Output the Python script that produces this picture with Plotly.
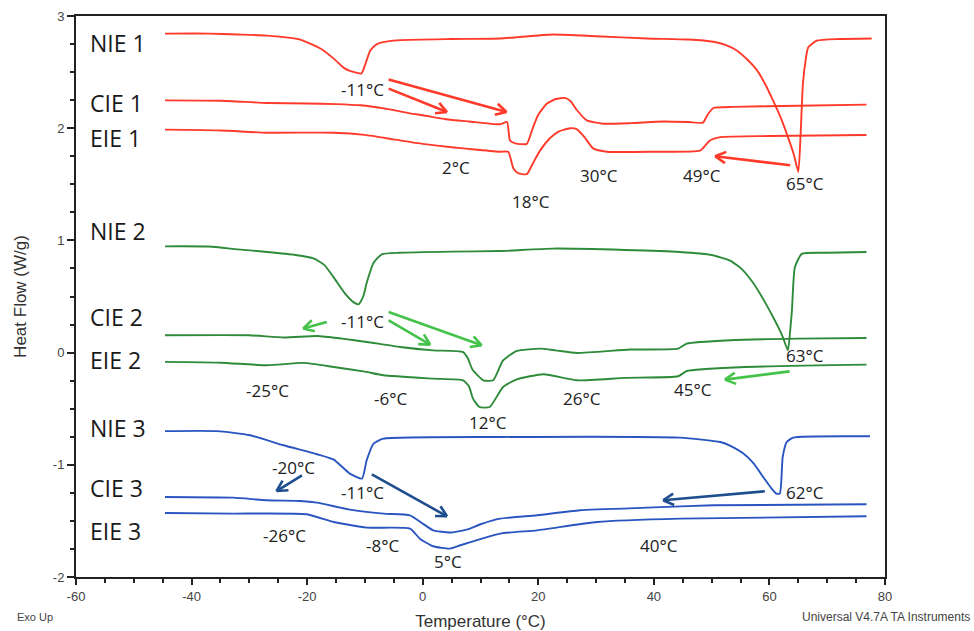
import math
import plotly.graph_objects as go

# ---------------- data ----------------
nie1_t = [-44.6, -37, -32, -27, -21.2, -17.7, -15.4, -13.7, -12.6, -11.5, -10.6, -10, -9.1, -8.2, -7.4, -3.9, 5, 13.4, 22.5, 30, 38.8, 46, 50.3, 52.5, 54.4, 56.2, 57.8, 59.3, 60.6, 61.9, 63, 64.2, 65.0, 65.4, 65.8, 66.3, 66.7, 68.2, 72, 77.7]
nie1_y = [2.843, 2.843, 2.835, 2.825, 2.79, 2.71, 2.62, 2.54, 2.51, 2.495, 2.487, 2.56, 2.69, 2.74, 2.76, 2.785, 2.795, 2.80, 2.835, 2.82, 2.80, 2.79, 2.77, 2.74, 2.69, 2.61, 2.52, 2.39, 2.25, 2.10, 1.95, 1.77, 1.61, 1.95, 2.40, 2.62, 2.72, 2.78, 2.795, 2.80]

cie1_t = [-44.6, -35, -27, -20, -15, -10.8, -6, -2, 0, 4, 8, 13.4, 14.6, 15.1, 16, 18, 19.1, 20, 21.5, 23, 24.6, 25.6, 26.7, 28.4, 31.2, 36, 41.6, 46, 48.5, 49.3, 50.3, 53.7, 65, 76.8]
cie1_y = [2.248, 2.245, 2.225, 2.22, 2.215, 2.204, 2.17, 2.13, 2.115, 2.08, 2.06, 2.035, 2.055, 1.89, 1.865, 1.86, 2.01, 2.12, 2.22, 2.26, 2.27, 2.24, 2.16, 2.07, 2.04, 2.045, 2.06, 2.055, 2.05, 2.12, 2.18, 2.19, 2.20, 2.21]

eie1_t = [-44.6, -35, -27, -15.4, -10, -5, 0, 5, 9, 13.4, 14.8, 15.7, 16.5, 18.0, 19, 20.3, 22, 23.5, 25.5, 26.7, 28, 29.5, 31.9, 40, 48, 48.8, 49.7, 51.5, 60, 76.8]
eie1_y = [1.987, 1.98, 1.96, 1.96, 1.94, 1.90, 1.86, 1.83, 1.81, 1.79, 1.79, 1.64, 1.60, 1.59, 1.68, 1.80, 1.91, 1.97, 2.00, 1.99, 1.92, 1.82, 1.79, 1.79, 1.80, 1.84, 1.89, 1.92, 1.93, 1.94]

nie2_t = [-44.6, -37, -32, -26.9, -22, -18.9, -17, -15.4, -13.5, -12, -11.1, -10.3, -9.7, -8.5, -7.1, -4, 5, 13.4, 22.5, 35, 44.5, 50, 53.2, 55.3, 57.2, 59.0, 60.6, 61.6, 62.3, 63.2, 63.6, 63.9, 64.4, 65.6, 70, 76.8]
nie2_y = [0.947, 0.945, 0.92, 0.897, 0.87, 0.84, 0.78, 0.67, 0.53, 0.45, 0.43, 0.50, 0.62, 0.80, 0.876, 0.89, 0.90, 0.905, 0.927, 0.915, 0.897, 0.87, 0.82, 0.74, 0.62, 0.47, 0.32, 0.22, 0.14, 0.02, 0.20, 0.38, 0.76, 0.88, 0.89, 0.897]

cie2_t = [-44.6, -30, -24, -18.3, -14, -9.7, -3.9, 1.8, 7.0, 7.8, 8.6, 10.5, 12.2, 13.9, 16.3, 20.3, 23, 26.7, 35.9, 44.2, 45.7, 53.2, 65, 76.8]
cie2_y = [0.154, 0.154, 0.134, 0.148, 0.125, 0.095, 0.05, 0.02, 0.005, -0.05, -0.15, -0.247, -0.247, -0.07, 0.015, 0.035, 0.02, -0.003, 0.027, 0.035, 0.08, 0.11, 0.125, 0.13]

eie2_t = [-44.6, -35, -26.9, -20.6, -15.4, -10, -6.8, 1.8, 7.0, 8.0, 8.7, 9.8, 11.6, 13.9, 16.3, 20.9, 26.7, 35, 44.2, 45.7, 55, 76.8]
eie2_y = [-0.083, -0.09, -0.113, -0.092, -0.128, -0.17, -0.202, -0.232, -0.247, -0.30, -0.41, -0.485, -0.485, -0.306, -0.238, -0.193, -0.247, -0.225, -0.211, -0.164, -0.13, -0.107]

nie3_t = [-44.6, -35.6, -29.9, -24.1, -18.3, -15.4, -12.6, -10.5, -9.7, -8.5, -6.8, 13.4, 44.5, 51.5, 53.6, 55.5, 57.3, 58.9, 60.2, 61.2, 61.8, 62.3, 63.0, 64.1, 77.4]
nie3_y = [-0.70, -0.70, -0.737, -0.826, -0.906, -0.954, -1.079, -1.123, -0.96, -0.811, -0.767, -0.752, -0.758, -0.797, -0.84, -0.90, -0.99, -1.108, -1.20, -1.257, -1.257, -0.93, -0.797, -0.758, -0.746]

cie3_t = [-44.6, -32.8, -26.9, -21.2, -18.3, -12.6, -6.8, -2.2, 0, 1.8, 4.7, 7.6, 10, 13.4, 19.8, 27.2, 38.8, 50.3, 76.8]
cie3_y = [-1.287, -1.293, -1.316, -1.322, -1.337, -1.40, -1.435, -1.45, -1.524, -1.584, -1.604, -1.578, -1.53, -1.48, -1.45, -1.405, -1.382, -1.361, -1.352]

eie3_t = [-44.6, -32.8, -20.1, -15.4, -9.7, -2.2, -0.5, 1.8, 4.7, 6.5, 13.4, 19.8, 30.2, 44.5, 76.8]
eie3_y = [-1.43, -1.435, -1.441, -1.51, -1.56, -1.569, -1.658, -1.726, -1.747, -1.717, -1.613, -1.584, -1.51, -1.48, -1.459]

series_names = ["NIE 1", "CIE 1", "EIE 1", "NIE 2", "CIE 2", "EIE 2", "NIE 3", "CIE 3", "EIE 3"]
series_t = [nie1_t, cie1_t, eie1_t, nie2_t, cie2_t, eie2_t, nie3_t, cie3_t, eie3_t]
series_y = [nie1_y, cie1_y, eie1_y, nie2_y, cie2_y, eie2_y, nie3_y, cie3_y, eie3_y]
series_group = [0, 0, 0, 1, 1, 1, 2, 2, 2]

# name labels (left side)
name_label_y = [2.757, 2.226, 1.914, 1.08, 0.316, -0.067, -0.67, -1.205, -1.588]
name_label_x = -57.9

# temperature labels
temp_text = ["-11°C", "2°C", "18°C", "30°C", "49°C", "65°C",
             "-11°C", "-25°C", "-6°C", "12°C", "26°C", "45°C", "63°C",
             "-20°C", "-11°C", "-26°C", "-8°C", "5°C", "62°C", "40°C"]
temp_x = [-10.4, 5.7, 18.7, 30.5, 48.3, 66.1,
          -10.4, -26.8, -5.5, 11.3, 27.6, 46.8, 66.1,
          -22.4, -10.4, -23.9, -7.0, 4.4, 66.1, 40.9]
temp_y = [2.344, 1.654, 1.349, 1.58, 1.58, 1.506,
          0.273, -0.336, -0.41, -0.627, -0.41, -0.33, -0.024,
          -1.02, -1.251, -1.628, -1.717, -1.866, -1.251, -1.717]

# arrows: tail (x, y) -> head (x, y), colour group
arrow_tail_x = [-5.9, -5.9, 63.6, -16.6, -5.9, -5.9, 63.5, -20.9, -8.8, 59.2]
arrow_tail_y = [2.433, 2.353, 1.67, 0.273, 0.288, 0.362, -0.167, -1.094, -1.085, -1.236]
arrow_head_x = [14.5, 4.2, 50.6, -20.7, 1.3, 10.2, 52.3, -25.3, 4.2, 41.6]
arrow_head_y = [2.144, 2.144, 1.75, 0.214, 0.071, 0.065, -0.241, -1.234, -1.459, -1.316]
arrow_group = [0, 0, 0, 1, 1, 1, 1, 2, 2, 2]

x_ticks = [-60, -40, -20, 0, 20, 40, 60, 80]
x_tick_text = ["-60", "-40", "-20", "0", "20", "40", "60", "80"]
y_ticks = [-2, -1, 0, 1, 2, 3]
y_tick_text = ["-2", "-1", "0", "1", "2", "3"]

# ---------------- style ----------------
curve_colors = ["#ff3a2a", "#2e8b3a", "#2a55c0"]
arrow_colors = ["#ff3a2a", "#45c24a", "#1f4e8f"]

W, H = 974, 631
ML, MR, MT, MB = 76, 89, 16, 54
XR = [-60, 80]
YR = [-2, 3]
PW, PH = W - ML - MR, H - MT - MB
sx = PW / (XR[1] - XR[0])
sy = PH / (YR[1] - YR[0])

fig = go.Figure()

for name, t, y, g in zip(series_names, series_t, series_y, series_group):
    fig.add_trace(go.Scatter(x=t, y=y, mode="lines", name=name,
                             line=dict(color=curve_colors[g], width=1.9, shape="spline", smoothing=0.5),
                             hoverinfo="skip", showlegend=False))

# arrows as shaft + open chevron head
wing_len = 12.0
wing_ang = math.radians(28)
for tx, ty, hx, hy, g in zip(arrow_tail_x, arrow_tail_y, arrow_head_x, arrow_head_y, arrow_group):
    dxp = (hx - tx) * sx
    dyp = (hy - ty) * sy
    n = math.hypot(dxp, dyp)
    ux, uy = dxp / n, dyp / n
    pts_x, pts_y = [tx, hx, None], [ty, hy, None]
    for s in (1, -1):
        ca, sa = math.cos(s * wing_ang), math.sin(s * wing_ang)
        rx = ux * ca - uy * sa
        ry = ux * sa + uy * ca
        wx = hx - wing_len * rx / sx
        wy = hy - wing_len * ry / sy
        pts_x += [wx, hx, None]
        pts_y += [wy, hy, None]
    fig.add_trace(go.Scatter(x=pts_x, y=pts_y, mode="lines",
                             line=dict(color=arrow_colors[g], width=2.6),
                             hoverinfo="skip", showlegend=False))

annotations = []
for name, ly in zip(series_names, name_label_y):
    annotations.append(dict(x=name_label_x, y=ly, xref="x", yref="y", text=name,
                            showarrow=False, xanchor="left", yanchor="middle",
                            font=dict(family="Open Sans", size=23, color="#1a1a1a")))
for tt, tx, ty in zip(temp_text, temp_x, temp_y):
    annotations.append(dict(x=tx, y=ty, xref="x", yref="y", text=tt,
                            showarrow=False, xanchor="center", yanchor="middle",
                            font=dict(family="Open Sans", size=17, color="#222222")))
foot_y = -(617 - (H - MB)) / PH
annotations.append(dict(x=(15 - ML) / PW, y=foot_y, xref="paper", yref="paper",
                        xanchor="left", yanchor="middle", text="Exo Up", showarrow=False,
                        font=dict(family="Liberation Sans", size=11, color="#444444")))
annotations.append(dict(x=(972 - ML) / PW, y=foot_y, xref="paper", yref="paper",
                        xanchor="right", yanchor="middle",
                        text="Universal V4.7A TA Instruments", showarrow=False,
                        font=dict(family="Liberation Sans", size=12, color="#444444")))

fig.update_layout(
    width=W, height=H,
    margin=dict(l=ML, r=MR, t=MT, b=MB, autoexpand=False),
    paper_bgcolor="white", plot_bgcolor="white",
    annotations=annotations,
    showlegend=False,
    xaxis=dict(range=XR, tickvals=x_ticks, ticktext=x_tick_text, ticks="outside", ticklen=6, tickwidth=1.5,
               tickcolor="#222", showline=True, linecolor="#222", linewidth=2, mirror=True,
               showgrid=False, zeroline=False, automargin=False,
               tickfont=dict(family="Liberation Sans", size=13, color="#444444"),
               minor=dict(dtick=5, ticks="outside", ticklen=4, tickwidth=1.5, tickcolor="#222", showgrid=False),
               title=dict(text="Temperature (°C)", standoff=14,
                          font=dict(family="Liberation Sans", size=17, color="#333333"))),
    yaxis=dict(range=YR, tickvals=y_ticks, ticktext=y_tick_text, ticks="outside", ticklen=7, tickwidth=1.5,
               tickcolor="#222", showline=True, linecolor="#222", linewidth=2, mirror=True,
               showgrid=False, zeroline=False, automargin=False,
               tickfont=dict(family="Liberation Sans", size=13, color="#444444"),
               minor=dict(dtick=0.25, ticks="outside", ticklen=4, tickwidth=1.5, tickcolor="#222", showgrid=False),
               title=dict(text="Heat Flow (W/g)", standoff=22,
                          font=dict(family="Liberation Sans", size=17, color="#333333"))),
)

fig.write_html("out.html", config={"displayModeBar": False},
               post_script="document.body.style.margin='0';document.body.style.overflow='hidden';")
